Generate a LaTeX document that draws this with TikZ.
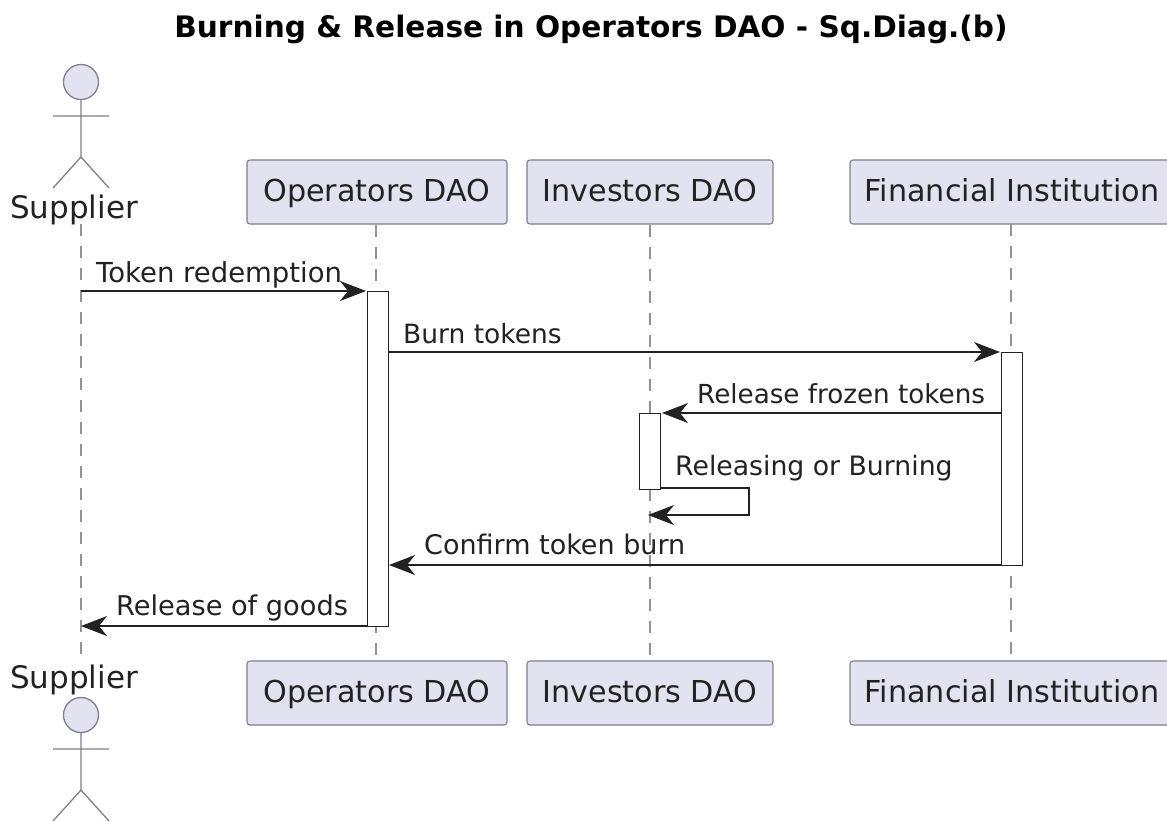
\documentclass[tikz,border=0pt]{standalone}
\usepackage{fontspec}
\setmainfont{DejaVu Sans}
\usetikzlibrary{arrows.meta}
\definecolor{boxfill}{HTML}{E2E2F0}
\definecolor{boxline}{HTML}{7F7F8F}
\definecolor{ink}{HTML}{222222}
\tikzset{
 x=1pt,y=-1pt,
 part/.style={draw=boxline,fill=boxfill,rounded corners=3pt,line width=1.1pt,minimum height=64pt,inner sep=0pt,text=ink,text height=23pt,text depth=5pt,font=\fontsize{30.2}{34}\selectfont},
 life/.style={draw=gray!85,line width=1.2pt,dash pattern=on 12pt off 10pt},
 act/.style={draw=ink,fill=white,line width=1.4pt},
 msg/.style={draw=ink,line width=1.6pt,-{Stealth[length=26pt,width=20pt,inset=8pt]}},
 lab/.style={text=ink,font=\fontsize{26.7}{30}\selectfont,inner sep=0pt,anchor=base west},
 who/.style={text=ink,font=\fontsize{31}{35}\selectfont,inner sep=0pt,anchor=base},
 stick/.style={draw=boxline,line width=1.3pt},
}
\begin{document}
\begin{tikzpicture}
\useasboundingbox (0,0) rectangle (1167,820);
\fill[white] (0,0) rectangle (1167,820);
\node[font=\bfseries\fontsize{29.6}{33}\selectfont,text=black,inner sep=0pt,anchor=base] (title) at (591,37) {Burning \& Release in Operators DAO - Sq.Diag.(b)};
\coordinate (s1) at (81,224); \coordinate (s2) at (81,660);
\node[part,minimum width=260pt,anchor=center] (o1) at (377,192) {Operators DAO};
\node[part,minimum width=246pt] (i1) at (650,192) {Investors DAO};
\node[part,minimum width=324pt] (f1) at (1012,192) {Financial Institution};
\node[part,minimum width=260pt] (o2) at (377,693) {Operators DAO};
\node[part,minimum width=246pt] (i2) at (650,693) {Investors DAO};
\node[part,minimum width=324pt] (f2) at (1012,693) {Financial Institution};
\draw[life] (s1) -- (s2);
\draw[life] ([xshift=-1pt]o1.south) -- ([xshift=-1pt]o2.north);
\draw[life] (i1) -- (i2);
\coordinate (ft) at (1011,224); \coordinate (fb) at (1011,661);
\draw[life] (ft) -- (fb);
\foreach \n/\y in {top/82,bot/715}{
 \node[draw=boxline,fill=boxfill,circle,minimum size=35pt,inner sep=0pt,line width=1.3pt] (head\n) at (81,\y) {};
 \coordinate (neck\n) at (81,\y+18);
 \coordinate (hip\n) at (81,\y+75);
 \coordinate (la\n) at (53,\y+34);
 \coordinate (ra\n) at (109,\y+34);
 \coordinate (ll\n) at (53,\y+106);
 \coordinate (rl\n) at (109,\y+106);
 \draw[stick] (neck\n) -- (hip\n) (la\n) -- (ra\n) (ll\n) -- (hip\n) -- (rl\n);
}
\node[who] (w1) at (74,218) {Supplier};
\node[who] (w2) at (74,688) {Supplier};
\node[act,minimum width=21pt,minimum height=335pt,inner sep=0pt,anchor=north] (ao) at (378,291) {};
\node[act,minimum width=21pt,minimum height=213pt,inner sep=0pt,anchor=north] (af) at (1012,352) {};
\node[act,minimum width=21pt,minimum height=76pt,inner sep=0pt,anchor=north] (ai) at (650,413) {};
\coordinate (m1a) at (81,291); \coordinate (m1b) at (366,291);
\draw[msg] (m1a) -- (m1b);
\node[lab,font=\fontsize{27.5}{30}\selectfont] (l1) at (96,282) {Token redemption};
\coordinate (m2a) at (389,352); \coordinate (m2b) at (1000,352);
\draw[msg] (m2a) -- (m2b);
\node[lab,font=\fontsize{26.5}{30}\selectfont] (l2) at (403,343) {Burn tokens};
\coordinate (m3a) at (1001,413); \coordinate (m3b) at (662,413);
\draw[msg] (m3a) -- (m3b);
\node[lab,font=\fontsize{26.2}{30}\selectfont] (l3) at (697,403) {Release frozen tokens};
\coordinate (m4a) at (661,488); \coordinate (m4b) at (749,488); \coordinate (m4c) at (749,515); \coordinate (m4d) at (648,515);
\draw[msg] (m4a) -- (m4b) -- (m4c) -- (m4d);
\node[lab] (l4) at (675,475) {Releasing or Burning};
\coordinate (m5a) at (1001,565); \coordinate (m5b) at (389,565);
\draw[msg] (m5a) -- (m5b);
\node[lab,font=\fontsize{27}{30}\selectfont] (l5) at (424,554) {Confirm token burn};
\coordinate (m6a) at (367,626); \coordinate (m6b) at (81,626);
\draw[msg] (m6a) -- (m6b);
\node[lab,font=\fontsize{27.2}{30}\selectfont] (l6) at (116,615) {Release of goods};
\end{tikzpicture}
\end{document}
